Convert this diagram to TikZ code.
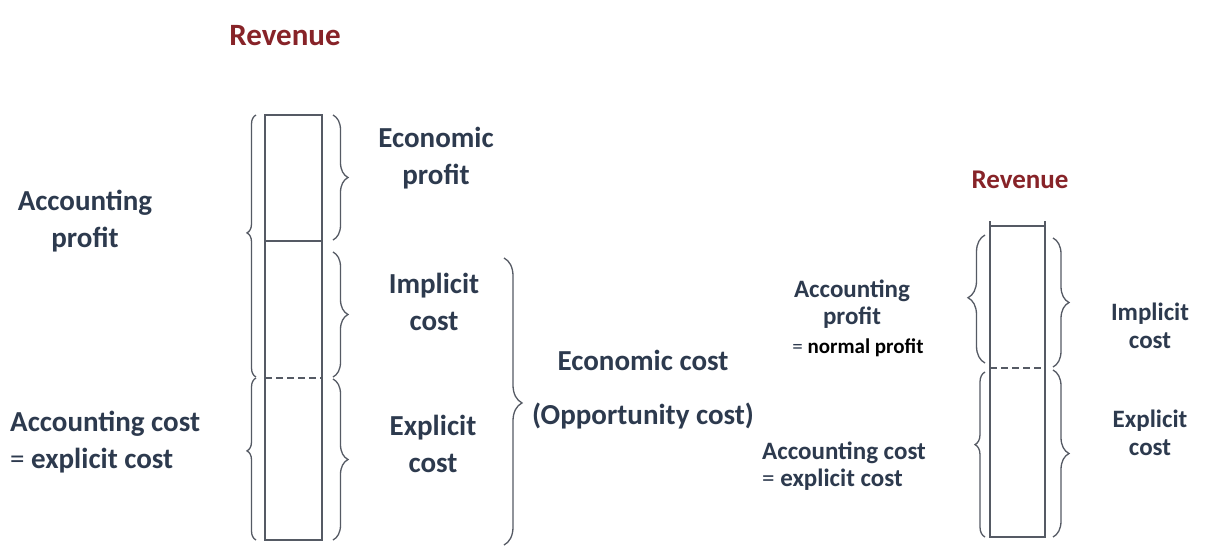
\documentclass[tikz,border=0pt]{standalone}
\usepackage{fontspec}
\setmainfont{Carlito}
\usetikzlibrary{decorations.pathreplacing}
\definecolor{txt}{RGB}{45,58,78}
\definecolor{rev}{RGB}{135,35,40}
\definecolor{ln}{RGB}{85,90,100}
\tikzset{
  lbl/.style={text=txt, font=\bfseries\fontsize{29}{37}\selectfont, align=center, inner sep=0pt},
  slbl/.style={text=txt, font=\bfseries\fontsize{25}{27.5}\selectfont, align=center, inner sep=0pt},
  revlbl/.style={text=rev, font=\bfseries\fontsize{#1}{#1}\selectfont, inner sep=0pt},
  barline/.style={draw=ln, line width=1.6pt},
  divline/.style={draw=ln, line width=1.4pt, dash pattern=on 7pt off 4pt},
  brc/.style n args={2}{draw=ln, line width=1.3pt, decorate, decoration={brace, amplitude=#1, aspect=#2}},
}
\begin{document}
\begin{tikzpicture}[x=1pt, y=-1pt]
\useasboundingbox[fill=white] (0,0) rectangle (1226,550);

% ---------- left diagram ----------
\node[revlbl=31] (revL) at (285,36) {Revenue};
\draw[barline] (265,115) rectangle (322,540);
\draw[barline] (265,241) -- (322,241);
\draw[divline] (265,378) -- (322,378);

% left braces
\draw[brc={9pt}{0.55}] (256,377) -- (256,115);
\draw[brc={9pt}{0.55}] (256,540) -- (256,378);
% right braces
\draw[brc={15pt}{0.5}] (333,115) -- (333,240);
\draw[brc={15pt}{0.5}] (333,252) -- (333,377);
\draw[brc={15pt}{0.5}] (333,379) -- (333,540);
% big brace
\draw[brc={18pt}{0.505}] (504,258) -- (504,545);

\node[lbl] (ep) at (436,158) {Economic\\profit};
\node[lbl] (ap) at (85,221) {Accounting\\profit};
\node[lbl] (ic) at (434,302) {Implicit\\cost};
\node[lbl, align=left, anchor=west] (ac) at (10,442) {Accounting cost\\{\mdseries=} explicit cost};
\node[lbl] (xc) at (433,444) {Explicit\\cost};
\node[lbl] (ec) at (643,360) {Economic cost};
\node[lbl] (oc) at (643,416) {(Opportunity cost)};

% ---------- right diagram ----------
\node[revlbl=27] (revR) at (1020,180) {Revenue};
\draw[barline] (990,221) -- (990,537) -- (1045,537) -- (1045,221);
\draw[barline] (990,226) -- (1045,226);
\draw[divline] (990,368) -- (1045,368);

\draw[brc={17pt}{0.51}] (985,363) -- (985,235);
\draw[brc={10pt}{0.56}] (985,537) -- (985,372);
\draw[brc={16pt}{0.5}] (1053,238) -- (1053,367);
\draw[brc={16pt}{0.5}] (1053,370) -- (1053,537);

\node[slbl] (apR) at (852,304) {Accounting\\profit};
\node[inner sep=0pt, font=\bfseries\fontsize{21}{24}\selectfont, text=black] (nrm) at (858,348) {{\mdseries\color{txt}=} normal profit};
\node[slbl, align=left, anchor=west] (acR) at (762,466) {Accounting cost\\{\mdseries=} explicit cost};
\node[slbl] (icR) at (1150,326) {Implicit\\cost};
\node[slbl] (xcR) at (1150,433) {Explicit\\cost};
\end{tikzpicture}
\end{document}
